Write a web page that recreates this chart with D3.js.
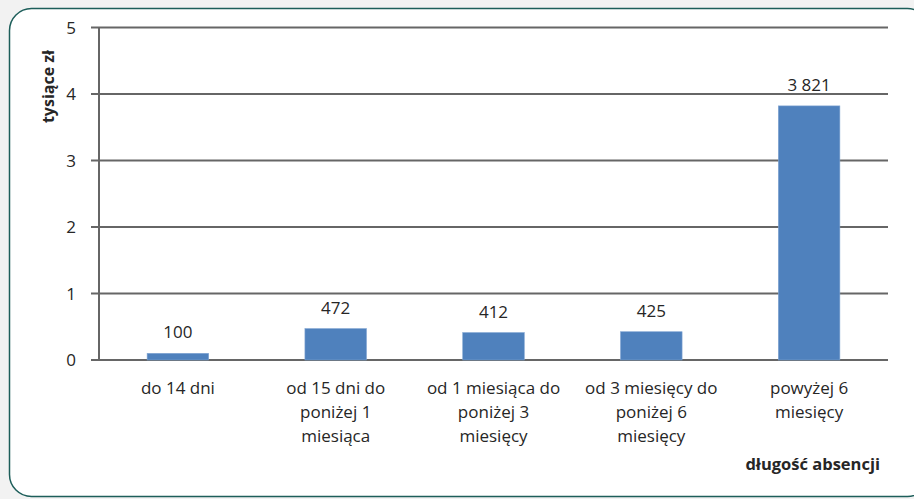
<!DOCTYPE html>
<html>
<head>
<meta charset="utf-8">
<script src="https://cdnjs.cloudflare.com/ajax/libs/d3/7.8.5/d3.min.js"></script>
<style>
  body { margin: 0; background: #f2f2f2; }
  text { font-family: "Open Sans", "Noto Sans", sans-serif; fill: #262626; }
</style>
</head>
<body>
<svg id="chart" width="914" height="499"></svg>
<script>
// wartości w zł, oś w tysiącach
var categories = [
  ["do 14 dni"],
  ["od 15 dni do", "poniżej 1", "miesiąca"],
  ["od 1 miesiąca do", "poniżej 3", "miesięcy"],
  ["od 3 miesięcy do", "poniżej 6", "miesięcy"],
  ["powyżej 6", "miesięcy"]
];
var values = [100, 472, 412, 425, 3821];
var valueLabels = ["100", "472", "412", "425", "3 821"];
var yTicks = [0, 1, 2, 3, 4, 5];

var svg = d3.select("#chart");

// ramka
svg.append("rect")
  .attr("x", 9.5).attr("y", 8.5)
  .attr("width", 920).attr("height", 488)
  .attr("rx", 22).attr("ry", 22)
  .attr("fill", "#fff")
  .attr("stroke", "#1d5e5a")
  .attr("stroke-width", 1.5);

var plotLeft = 99, plotRight = 888, plotTop = 27.5, plotBottom = 360;

var x = d3.scaleBand()
  .domain(d3.range(categories.length))
  .range([plotLeft, plotRight])
  .paddingInner(0.61).paddingOuter(0.305);

var y = d3.scaleLinear().domain([0, 5]).range([plotBottom, plotTop]);

// siatka
svg.append("g").selectAll("line")
  .data(yTicks)
  .enter().append("line")
  .attr("x1", plotLeft - 8).attr("x2", plotRight)
  .attr("y1", function(d) { return y(d); })
  .attr("y2", function(d) { return y(d); })
  .attr("stroke", "#666").attr("stroke-width", 2);

svg.append("line")
  .attr("x1", plotLeft).attr("x2", plotLeft)
  .attr("y1", plotTop).attr("y2", plotBottom)
  .attr("stroke", "#666").attr("stroke-width", 2);

// etykiety osi y
svg.append("g").selectAll("text")
  .data(yTicks)
  .enter().append("text")
  .attr("x", 76)
  .attr("y", function(d) { return y(d) + 6; })
  .attr("text-anchor", "end")
  .attr("font-size", 17)
  .text(function(d) { return d; });

// słupki
svg.append("g").selectAll("rect")
  .data(values)
  .enter().append("rect")
  .attr("x", function(d, i) { return x(i); })
  .attr("width", x.bandwidth())
  .attr("y", function(d) { return y(d / 1000); })
  .attr("height", function(d) { return plotBottom - y(d / 1000); })
  .attr("fill", "#4f81bd")
  .attr("stroke", "#7ea3d1").attr("stroke-width", 0.6);

// etykiety danych
svg.append("g").selectAll("text")
  .data(values)
  .enter().append("text")
  .attr("x", function(d, i) { return x(i) + x.bandwidth() / 2; })
  .attr("y", function(d) { return y(d / 1000) - 15; })
  .attr("text-anchor", "middle")
  .attr("font-size", 17)
  .text(function(d, i) { return valueLabels[i]; });

// etykiety kategorii
var cat = svg.append("g").selectAll("text")
  .data(categories)
  .enter().append("text")
  .attr("text-anchor", "middle")
  .attr("font-size", 17)
  .attr("transform", function(d, i) {
    return "translate(" + (x(i) + x.bandwidth() / 2) + ",394)";
  });
cat.selectAll("tspan")
  .data(function(d) { return d; })
  .enter().append("tspan")
  .attr("x", 0)
  .attr("y", function(d, j) { return j * 24; })
  .text(function(d) { return d; });

// tytuły osi
svg.append("text")
  .attr("transform", "translate(54,50) rotate(-90)")
  .attr("text-anchor", "end")
  .attr("font-size", 16)
  .attr("font-weight", "bold")
  .text("tysiące zł");

svg.append("text")
  .attr("x", 880).attr("y", 470)
  .attr("text-anchor", "end")
  .attr("font-size", 16.5)
  .attr("font-weight", "bold")
  .text("długość absencji");
</script>
</body>
</html>
